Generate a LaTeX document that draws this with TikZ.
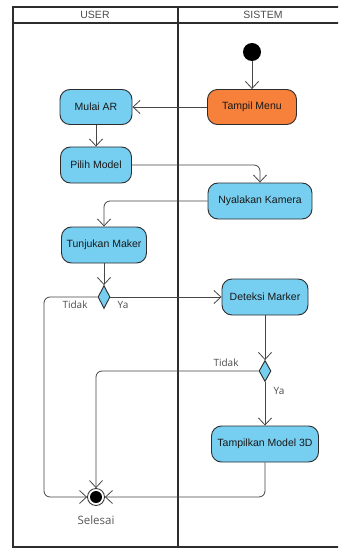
\documentclass[tikz,border=0pt]{standalone}
\usepackage{fontspec}
\setmainfont{Liberation Sans}
\newfontfamily\labelfont{Open Sans}
\usetikzlibrary{arrows.meta,shapes.geometric}
\definecolor{actblue}{RGB}{118,206,240}
\definecolor{actorange}{RGB}{247,128,58}
\definecolor{edgegray}{RGB}{70,70,70}
\definecolor{bordergray}{RGB}{45,45,45}
\tikzset{
  lanestyle/.style={draw=bordergray,line width=1.4pt},
  actbox/.style={draw=bordergray,line width=0.9pt,rounded corners=10pt,fill=actblue,
    inner sep=0pt,font=\fontsize{10.5}{12}\selectfont,text=black!90},
  decide/.style={draw=bordergray,line width=0.9pt,diamond,fill=actblue,inner sep=0pt,
    minimum width=12pt,minimum height=23pt},
  flow/.style={draw=edgegray,line width=0.8pt,rounded corners=6pt,
    -{Straight Barb[length=7pt,width=13pt,line width=0.8pt]}},
  lbl/.style={font=\labelfont\fontsize{10}{12}\selectfont,text=black!70,inner sep=0pt},
  hdr/.style={font=\fontsize{10.5}{12}\selectfont,text=black!70,inner sep=0pt},
}
\begin{document}
\begin{tikzpicture}[x=1pt,y=-1pt]
\useasboundingbox (0,0) rectangle (338,548);
\fill[white] (0,0) rectangle (338,548);
% swimlane frame
\begin{scope}
\clip (0,0) rectangle (338,548);
\draw[lanestyle] (13,7) rectangle (360,547);
\draw[lanestyle] (13,23) -- (360,23);
\draw[lanestyle] (178,7) -- (178,547);
\end{scope}
\node[hdr] (huser) at (95,15) {USER};
\node[hdr] (hsis) at (263,15) {SISTEM};
% nodes
\node[circle,fill=black,inner sep=0pt,minimum size=18pt] (init) at (252,52) {};
\node[actbox,fill=actorange,minimum width=89pt,minimum height=35pt] (tampil) at (252,107) {Tampil Menu};
\node[actbox,minimum width=72pt,minimum height=35pt] (mulai) at (96,107) {Mulai AR};
\node[actbox,minimum width=71pt,minimum height=36pt] (pilih) at (96,165) {Pilih Model};
\node[actbox,minimum width=104pt,minimum height=36pt] (nyala) at (260,201) {Nyalakan Kamera};
\node[actbox,minimum width=85pt,minimum height=36pt] (tunjuk) at (104,245) {Tunjukan Maker};
\node[decide] (d1) at (104,297) {};
\node[actbox,minimum width=86pt,minimum height=36pt] (deteksi) at (265,297) {Deteksi Marker};
\node[decide,minimum height=21pt] (d2) at (265,371) {};
\node[actbox,minimum width=107pt,minimum height=36pt] (tampilkan) at (265,444) {Tampilkan Model 3D};
\node[circle,draw=bordergray,line width=0.8pt,fill=white,inner sep=0pt,minimum size=17pt] (final) at (96,497) {};
\fill[black] (final.center) circle (6pt);
\coordinate (c1) at (44,497);
% labels
\node[lbl] (t1) at (75,305) {Tidak};
\node[lbl] (y1) at (123,305) {Ya};
\node[lbl] (t2) at (226,363) {Tidak};
\node[lbl] (y2) at (279,391) {Ya};
\node[lbl,font=\labelfont\fontsize{11.5}{13}\selectfont,text=black!65] (sel) at (96,520) {Selesai};
% flows
\draw[flow] (init) -- (tampil);
\draw[flow] (tampil) -- (mulai);
\draw[flow] (mulai) -- (pilih);
\draw[flow] (pilih.east) -| (nyala.north);
\draw[flow] (nyala.west) -| (tunjuk.north);
\draw[flow] (tunjuk) -- (d1);
\draw[flow] (d1.east) -- (d1.east -| deteksi.west);
\draw[flow] (d1.west) -| (c1) -- (final.west);
\draw[flow] (deteksi) -- (d2);
\draw[flow] (d2.west) -| (final.north);
\draw[flow] (d2) -- (tampilkan);
\draw[flow] (tampilkan.south) |- (final.east);
\end{tikzpicture}
\end{document}
